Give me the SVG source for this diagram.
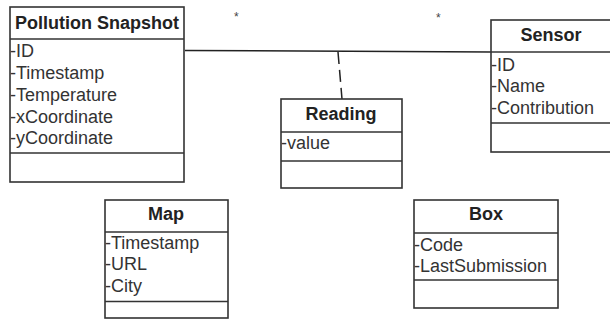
<svg xmlns="http://www.w3.org/2000/svg" width="610" height="331" viewBox="0 0 610 331">
<style>
.box{fill:#fff;stroke:#333;stroke-width:1.6}
.div{stroke:#333;stroke-width:1.6}
.title{font-family:"Liberation Sans",Arial,sans-serif;font-size:18px;font-weight:bold;fill:#222;text-anchor:middle}
.attr{font-family:"Liberation Sans",Arial,sans-serif;font-size:18px;fill:#333}
.mult{font-family:"Liberation Sans",Arial,sans-serif;font-size:12px;fill:#444}
.conn{stroke:#222;stroke-width:1.5;fill:none}
</style>
<rect width="610" height="331" fill="#fff"/>
<g id="connectors">
<line class="conn" x1="185" y1="50.5" x2="491" y2="52"/>
<line class="conn" x1="338" y1="52" x2="342" y2="99" stroke-dasharray="12,6"/>
<text class="mult" x="234" y="21">*</text>
<text class="mult" x="436" y="22">*</text>
</g>
<g id="pollution-snapshot">
<rect class="box" x="10" y="7" width="174" height="175"/>
<line class="div" x1="10" y1="39" x2="184" y2="39"/>
<line class="div" x1="10" y1="153" x2="184" y2="153"/>
<text class="title" x="97" y="29">Pollution Snapshot</text>
<text class="attr" x="10" y="57">-ID</text>
<text class="attr" x="10" y="79">-Timestamp</text>
<text class="attr" x="10" y="101">-Temperature</text>
<text class="attr" x="10" y="122.5">-xCoordinate</text>
<text class="attr" x="10" y="144">-yCoordinate</text>
</g>
<g id="sensor">
<rect class="box" x="491" y="20" width="130" height="132"/>
<line class="div" x1="491" y1="52" x2="621" y2="52"/>
<line class="div" x1="491" y1="123" x2="621" y2="123"/>
<text class="title" x="551" y="41">Sensor</text>
<text class="attr" x="491" y="71">-ID</text>
<text class="attr" x="491" y="92">-Name</text>
<text class="attr" x="491" y="113.5">-Contribution</text>
</g>
<g id="reading">
<rect class="box" x="281" y="99" width="121" height="89"/>
<line class="div" x1="281" y1="132" x2="402" y2="132"/>
<line class="div" x1="281" y1="161" x2="402" y2="161"/>
<text class="title" x="341" y="119.5">Reading</text>
<text class="attr" x="281" y="149">-value</text>
</g>
<g id="map">
<rect class="box" x="105" y="200" width="123" height="118"/>
<line class="div" x1="105" y1="232" x2="228" y2="232"/>
<line class="div" x1="105" y1="301.5" x2="228" y2="301.5"/>
<text class="title" x="166" y="220">Map</text>
<text class="attr" x="105" y="248.5">-Timestamp</text>
<text class="attr" x="105" y="270">-URL</text>
<text class="attr" x="105" y="291.5">-City</text>
</g>
<g id="box">
<rect class="box" x="414" y="200" width="144" height="108"/>
<line class="div" x1="414" y1="233" x2="558" y2="233"/>
<line class="div" x1="414" y1="280" x2="558" y2="280"/>
<text class="title" x="486" y="220">Box</text>
<text class="attr" x="414" y="250.5">-Code</text>
<text class="attr" x="414" y="272">-LastSubmission</text>
</g>
</svg>
